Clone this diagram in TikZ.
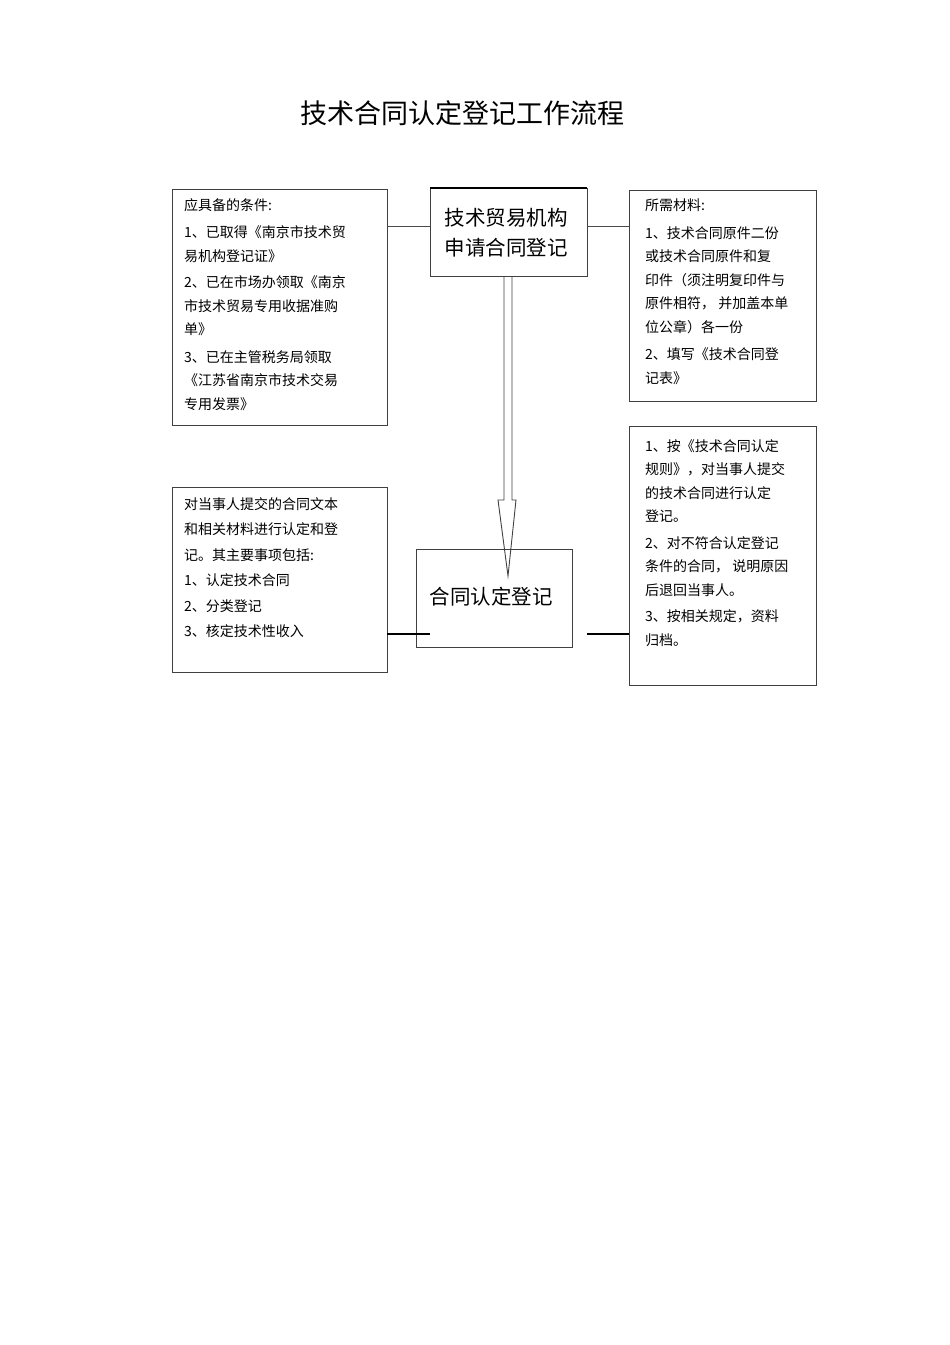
\documentclass[tikz,border=0pt]{standalone}
\usepackage{fontspec}
\setmainfont{Noto Sans CJK SC}
\begin{document}
\begin{tikzpicture}[x=1pt,y=-1pt,
  box/.style={draw=black!75,line width=1pt},
  txt/.style={anchor=north west,align=left,inner sep=0pt,font=\fontsize{14}{23.5}\selectfont},
  link/.style={draw=black!70,line width=1pt}]
\useasboundingbox (0,0) rectangle (950,1345);
\node[font=\fontsize{27}{30}\selectfont] (title) at (462,113) {技术合同认定登记工作流程};
% boxes
\draw[box] (172,189) rectangle (387,425);
\coordinate (l1e) at (387,226);
\draw[box] (430,188) rectangle (587,276);
\draw[line width=2pt] (430,188) -- (587,188);
\coordinate (tcw) at (430,226); \coordinate (tce) at (587,226);
\draw[box] (629,190) rectangle (816,401);
\coordinate (r1w) at (629,226);
\draw[box] (629,426) rectangle (816,685);
\coordinate (r2w) at (629,634);
\draw[box] (172,487) rectangle (387,672);
\coordinate (l2e) at (387,634);
\draw[box] (416,549) rectangle (572,647);
\coordinate (c2w) at (430,634); \coordinate (c2e) at (587,634);
% connectors
\draw[link] (l1e) -- (tcw);
\draw[link] (tce) -- (r1w);
\draw[line width=1.6pt] (l2e) -- (c2w);
\draw[line width=1.6pt] (c2e) -- (r2w);
% hollow arrow
\draw[black!75,line width=0.9pt] (504,276) -- (504,500) -- (498,500) -- (508,576) -- (516,500) -- (512,500) -- (512,276);
% texts
\node[font=\fontsize{20.5}{30}\selectfont,align=center] (tc) at (506,233) {技术贸易机构\\申请合同登记};
\node[font=\fontsize{20.5}{24}\selectfont] (c2) at (491,597) {合同认定登记};
\node[txt] (t1) at (184,198) {应具备的条件:\\[4pt]
1、已取得《南京市技术贸\\易机构登记证》\\[3pt]
2、已在市场办领取《南京\\市技术贸易专用收据准购\\单》\\[4pt]
3、已在主管税务局领取\\《江苏省南京市技术交易\\专用发票》};
\node[txt] (t2) at (645,199) {所需材料:\\[4pt]
1、技术合同原件二份\\或技术合同原件和复\\印件（须注明复印件与\\原件相符，\ 并加盖本单\\位公章）各一份\\[4pt]
2、填写《技术合同登\\记表》};
\node[txt] (t3) at (645,439) {1、按《技术合同认定\\规则》，对当事人提交\\的技术合同进行认定\\登记。\\[3pt]
2、对不符合认定登记\\条件的合同，\ 说明原因\\后退回当事人。\\[3pt]
3、按相关规定，资料\\归档。};
\node[txt,font=\fontsize{14}{25.5}\selectfont] (t4) at (184,497) {对当事人提交的合同文本\\和相关材料进行认定和登\\记。其主要事项包括:\\1、认定技术合同\\2、分类登记\\3、核定技术性收入};
\end{tikzpicture}
\end{document}
